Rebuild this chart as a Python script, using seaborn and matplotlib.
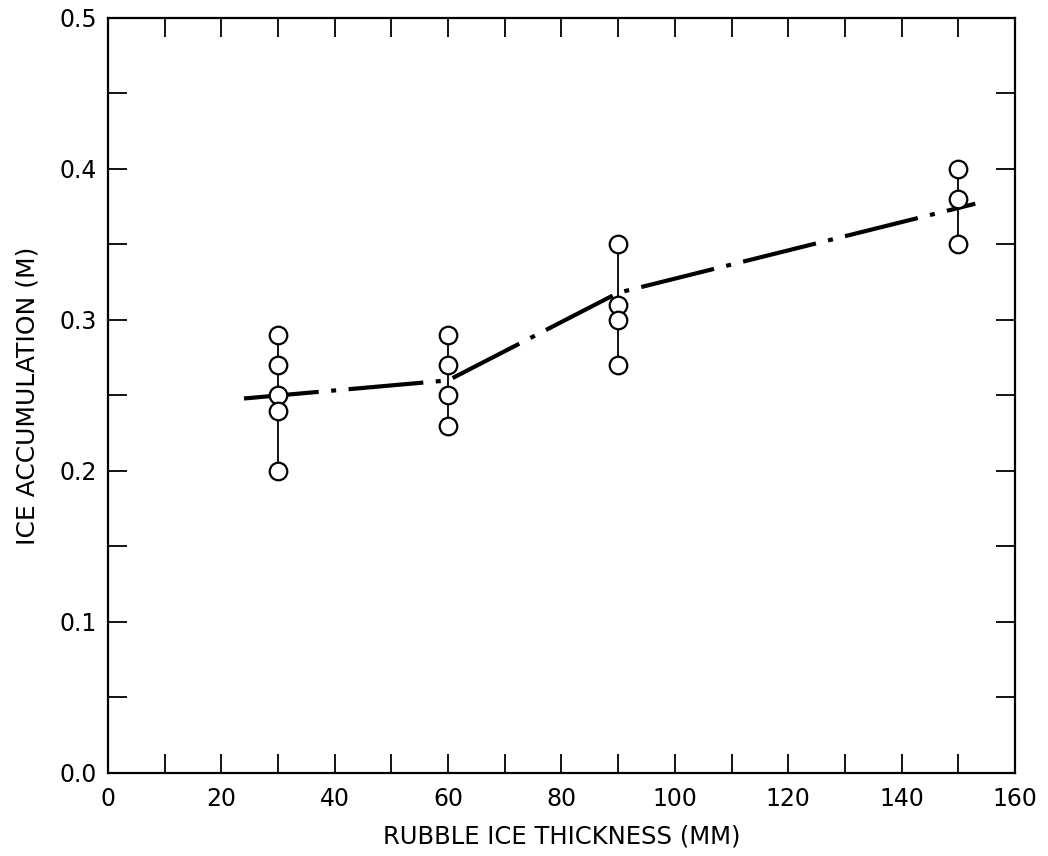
import numpy as np
import pandas as pd
import matplotlib
matplotlib.use("Agg")
import matplotlib.pyplot as plt
import seaborn as sns

# Measured ice accumulation for each rubble ice thickness
thickness_mm = [30, 30, 30, 30, 30,
                60, 60, 60, 60,
                90, 90, 90, 90,
                150, 150, 150]
accumulation_m = [0.29, 0.27, 0.25, 0.24, 0.20,
                  0.29, 0.27, 0.25, 0.23,
                  0.35, 0.31, 0.30, 0.27,
                  0.40, 0.38, 0.35]

# Fitted trend line (dash-dot)
trend_x = [24, 60, 90, 153]
trend_y = [0.248, 0.260, 0.318, 0.377]

x_ticks = [0, 20, 40, 60, 80, 100, 120, 140, 160]
y_ticks = [0.0, 0.1, 0.2, 0.3, 0.4, 0.5]

sns.set_style("ticks")
plt.rcParams["font.family"] = ["DejaVu Sans"]
plt.rcParams["text.color"] = "black"
plt.rcParams["axes.labelcolor"] = "black"
plt.rcParams["xtick.color"] = "black"
plt.rcParams["ytick.color"] = "black"

df = pd.DataFrame({"thickness": thickness_mm, "accumulation": accumulation_m})
trend = pd.DataFrame({"x": trend_x, "y": trend_y})

fig = plt.figure(figsize=(10.48, 8.56), dpi=100)
ax = fig.add_axes([0.103, 0.097, 0.8655, 0.882])

# Range bars joining the lowest and highest reading at each thickness
rng = df.groupby("thickness")["accumulation"].agg(["min", "max"]).reset_index()
ax.vlines(rng["thickness"], rng["min"], rng["max"], color="black", lw=1.3, zorder=2)

sns.lineplot(data=trend, x="x", y="y", ax=ax, color="black", lw=3,
             linestyle=(0, (18, 3, 1.2, 3)), sort=False, zorder=3)

sns.scatterplot(data=df, x="thickness", y="accumulation", ax=ax, s=160,
                facecolor="white", edgecolor="black", linewidth=1.6,
                marker="o", zorder=4)

ax.set_xlim(0, 160)
ax.set_ylim(0, 0.5)
ax.set_xticks(x_ticks)
ax.set_xticklabels([str(v) for v in x_ticks])
ax.set_xticks(np.arange(0, 161, 10), minor=True)
ax.set_yticks(y_ticks)
ax.set_yticklabels([f"{v:.1f}" for v in y_ticks])
ax.set_yticks(np.arange(0, 0.51, 0.05), minor=True)

ax.tick_params(which="both", direction="in", top=True, right=True,
               width=1.3, color="black", labelcolor="black", labelsize=17)
ax.tick_params(axis="x", pad=10)
ax.tick_params(axis="y", pad=8)
ax.tick_params(which="major", length=14)
ax.tick_params(which="minor", length=14)

for s in ax.spines.values():
    s.set_linewidth(1.6)
    s.set_color("black")

ax.set_xlabel("RUBBLE ICE THICKNESS (MM)", fontsize=17.5, labelpad=10, color="black")
ax.set_ylabel("ICE ACCUMULATION (M)", fontsize=18, labelpad=14, color="black")

fig.savefig("out.png", dpi=100, facecolor="white")
